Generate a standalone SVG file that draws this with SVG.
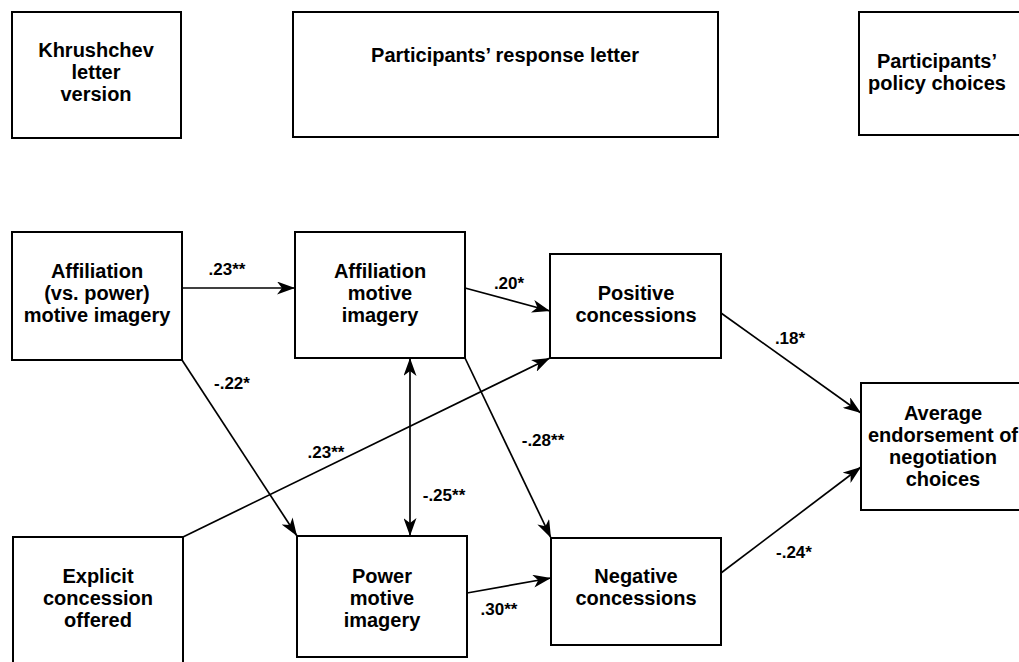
<svg xmlns="http://www.w3.org/2000/svg" width="1019" height="662" viewBox="0 0 1019 662">
<style>
.box{fill:#fff;stroke:#000;stroke-width:2}
.t{font-family:"Liberation Sans",Arial,sans-serif;font-weight:bold;font-size:20px;fill:#000;text-anchor:middle}
.lbl{font-family:"Liberation Sans",Arial,sans-serif;font-weight:bold;font-size:17px;fill:#000;text-anchor:middle}
.ln{fill:none;stroke:#000;stroke-width:1.7}
</style>
<defs>
<marker id="ah" markerUnits="userSpaceOnUse" markerWidth="19" markerHeight="13" refX="18" refY="6.5" orient="auto-start-reverse">
<path d="M0,0 L18,6.5 L0,13 L5,6.5 Z" fill="#000"/>
</marker>
</defs>
<rect width="1019" height="662" fill="#fff"/>
<g id="connectors">
<line class="ln" x1="182" y1="288" x2="295" y2="288" marker-end="url(#ah)"/>
<line class="ln" x1="182" y1="360" x2="297" y2="536" marker-end="url(#ah)"/>
<line class="ln" x1="465" y1="288" x2="550" y2="311" marker-end="url(#ah)"/>
<line class="ln" x1="183" y1="537" x2="550" y2="358" marker-end="url(#ah)"/>
<line class="ln" x1="465" y1="358" x2="551" y2="538" marker-end="url(#ah)"/>
<line class="ln" x1="410" y1="358" x2="410" y2="536" marker-start="url(#ah)" marker-end="url(#ah)"/>
<line class="ln" x1="467" y1="593" x2="551" y2="578" marker-end="url(#ah)"/>
<line class="ln" x1="721" y1="313" x2="861" y2="413" marker-end="url(#ah)"/>
<line class="ln" x1="721" y1="573" x2="861" y2="467" marker-end="url(#ah)"/>
<text class="lbl" x="227" y="275">.23**</text>
<text class="lbl" x="232" y="389">-.22*</text>
<text class="lbl" x="509" y="289">.20*</text>
<text class="lbl" x="326" y="458">.23**</text>
<text class="lbl" x="543" y="446">-.28**</text>
<text class="lbl" x="444" y="501">-.25**</text>
<text class="lbl" x="499" y="615">.30**</text>
<text class="lbl" x="790" y="344">.18*</text>
<text class="lbl" x="794" y="558">-.24*</text>
</g>
<g id="khrushchev">
<rect class="box" x="12" y="12" width="169" height="126"/>
<text class="t" x="96" y="57">Khrushchev</text>
<text class="t" x="96" y="79">letter</text>
<text class="t" x="96" y="101">version</text>
</g>
<g id="response-letter">
<rect class="box" x="293" y="12" width="425" height="125"/>
<text class="t" x="505" y="62">Participants’ response letter</text>
</g>
<g id="policy-choices">
<rect class="box" x="859" y="12" width="175" height="123"/>
<text class="t" x="937" y="68">Participants’</text>
<text class="t" x="937" y="90">policy choices</text>
</g>
<g id="affiliation-vs-power">
<rect class="box" x="12" y="232" width="170" height="128"/>
<text class="t" x="97" y="278">Affiliation</text>
<text class="t" x="97" y="300">(vs. power)</text>
<text class="t" x="97" y="322">motive imagery</text>
</g>
<g id="affiliation-motive">
<rect class="box" x="295" y="232" width="170" height="126"/>
<text class="t" x="380" y="278">Affiliation</text>
<text class="t" x="380" y="300">motive</text>
<text class="t" x="380" y="322">imagery</text>
</g>
<g id="positive-concessions">
<rect class="box" x="550" y="254" width="171" height="104"/>
<text class="t" x="636" y="300">Positive</text>
<text class="t" x="636" y="322">concessions</text>
</g>
<g id="explicit-concession">
<rect class="box" x="13" y="537" width="170" height="135"/>
<text class="t" x="98" y="583">Explicit</text>
<text class="t" x="98" y="605">concession</text>
<text class="t" x="98" y="627">offered</text>
</g>
<g id="power-motive">
<rect class="box" x="297" y="536" width="170" height="121"/>
<text class="t" x="382" y="583">Power</text>
<text class="t" x="382" y="605">motive</text>
<text class="t" x="382" y="627">imagery</text>
</g>
<g id="negative-concessions">
<rect class="box" x="551" y="538" width="170" height="107"/>
<text class="t" x="636" y="583">Negative</text>
<text class="t" x="636" y="605">concessions</text>
</g>
<g id="average-endorsement">
<rect class="box" x="861" y="383" width="175" height="127"/>
<text class="t" x="943" y="420">Average</text>
<text class="t" x="943" y="442">endorsement of</text>
<text class="t" x="943" y="464">negotiation</text>
<text class="t" x="943" y="486">choices</text>
</g>
</svg>
